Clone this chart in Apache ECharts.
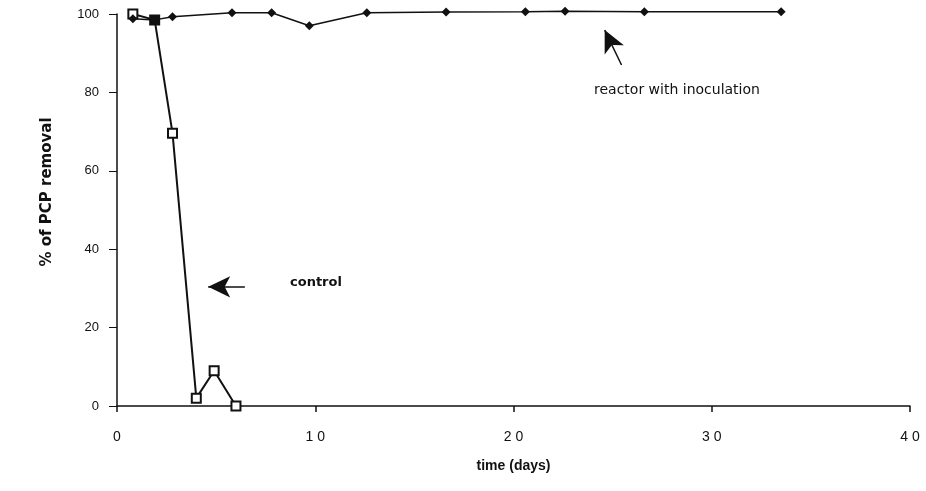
<!DOCTYPE html>
<html>
<head>
<meta charset="utf-8">
<script src="https://cdn.jsdelivr.net/npm/echarts@6/dist/echarts.min.js"></script>
<style>
  html, body { margin: 0; padding: 0; background: #fff; }
  #chart { width: 926px; height: 491px; }
</style>
</head>
<body>
<div id="chart"></div>
<script>
// values
var controlDays = [0.8, 1.9, 2.8, 4.0, 4.9, 6.0];
var controlPct = [100, 98.5, 69.6, 2, 9, 0];

var reactorDays = [0.8, 1.9, 2.8, 5.8, 7.8, 9.7, 12.6, 16.6, 20.6, 22.6, 26.6, 33.5];
var reactorPct = [98.8, 98.5, 99.3, 100.3, 100.3, 97.0, 100.3, 100.5, 100.6, 100.7, 100.6, 100.6];

var xTickLabels = { 0: "0", 10: "1 0", 20: "2 0", 30: "3 0", 40: "4 0" };

var font = "Liberation Sans, Arial, sans-serif";
var wideFont = "DejaVu Sans, sans-serif";

function pairs(xs, ys) {
  return xs.map(function (x, i) { return [x, ys[i]]; });
}

var controlData = pairs(controlDays, controlPct).map(function (p, i) {
  // the day-2 point overlaps the reactor and shows as a filled square
  if (i === 1) return { value: p, itemStyle: { color: "#111" } };
  return p;
});

var chart = echarts.init(document.getElementById("chart"));
chart.setOption({
  backgroundColor: "#ffffff",
  animation: false,
  grid: { left: 117, right: 16, top: 14, bottom: 85, containLabel: false },
  xAxis: {
    type: "value",
    min: 0,
    max: 40,
    interval: 10,
    name: "time (days)",
    nameLocation: "middle",
    nameGap: 53,
    nameTextStyle: { fontFamily: font, fontSize: 14, fontWeight: "bold", color: "#111" },
    axisLine: { lineStyle: { color: "#111", width: 1.5 } },
    axisTick: { show: true, length: 6, lineStyle: { color: "#111", width: 1.5 } },
    axisLabel: {
      margin: 24,
      fontFamily: font,
      fontSize: 14,
      color: "#111",
      formatter: function (v) { return xTickLabels[v]; }
    },
    splitLine: { show: false }
  },
  yAxis: {
    type: "value",
    min: 0,
    max: 100,
    interval: 20,
    axisLine: { show: true, lineStyle: { color: "#111", width: 1.5 } },
    axisTick: { show: true, length: 8, lineStyle: { color: "#111", width: 1 } },
    axisLabel: { margin: 18, fontFamily: font, fontSize: 13, color: "#111" },
    splitLine: { show: false }
  },
  series: [
    {
      name: "control",
      type: "line",
      data: controlData,
      clip: false,
      symbol: "rect",
      symbolSize: 9,
      showAllSymbol: true,
      lineStyle: { color: "#111", width: 2 },
      itemStyle: { color: "#fff", borderColor: "#111", borderWidth: 2 },
      z: 2,
      markLine: {
        silent: true,
        symbol: ["none", "arrow"],
        symbolSize: [16, 22],
        lineStyle: { color: "#111", width: 1.5, type: "solid" },
        label: { show: false },
        data: [
          [{ coord: [6.45, 30.4] }, { coord: [4.6, 30.4] }],
          [{ coord: [25.45, 87.0] }, { coord: [24.6, 95.9] }]
        ]
      }
    },
    {
      name: "reactor with inoculation",
      type: "line",
      data: pairs(reactorDays, reactorPct),
      clip: false,
      symbol: "diamond",
      symbolSize: 9,
      showAllSymbol: true,
      lineStyle: { color: "#111", width: 1.5 },
      itemStyle: { color: "#111" },
      z: 3
    }
  ],
  graphic: [
    {
      // y axis title, sits a bit above the plot centre in the scan
      type: "text",
      x: 47,
      y: 192,
      rotation: Math.PI / 2,
      style: {
        text: "% of PCP removal",
        fontFamily: wideFont,
        fontSize: 15,
        fontWeight: "bold",
        fill: "#111",
        align: "center",
        verticalAlign: "middle"
      }
    },
    {
      type: "text",
      left: 290,
      top: 276,
      style: { text: "control", fontFamily: wideFont, fontSize: 13, fontWeight: "bold", fill: "#111" }
    },
    {
      type: "text",
      left: 594,
      top: 83,
      style: { text: "reactor with inoculation", fontFamily: wideFont, fontSize: 14, fill: "#111" }
    }
  ]
});
</script>
</body>
</html>
